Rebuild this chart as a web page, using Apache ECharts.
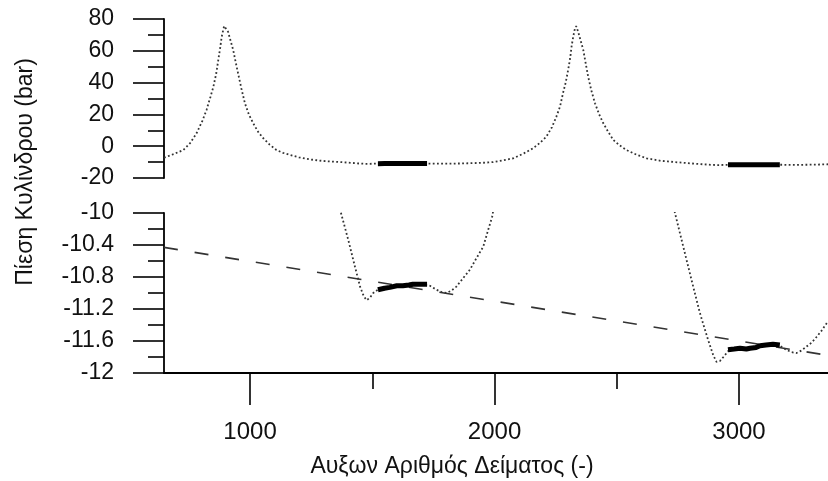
<!DOCTYPE html>
<html>
<head>
<meta charset="utf-8">
<script src="https://cdn.jsdelivr.net/npm/echarts@6/dist/echarts.min.js"></script>
<style>
html,body{margin:0;padding:0;background:#fff;}
#chart{width:828px;height:481px;}
</style>
</head>
<body>
<div id="chart"></div>
<script>
// Pressure trace (crank angle vs cylinder pressure)
const pressureX = [648,659,690,727,755,781,805,822,838,850,862,870,878,884,894,902,910,920,931,941,951,965,979,995,1013,1033,1054,1080,1108,1135,1163,1200,1250,1300,1340,1372,1402,1429,1450,1465,1477,1490,1504,1531,1560,1600,1650,1700,1736,1763,1785,1804,1824,1844,1870,1899,1925,1954,1975,1992,2030,2077,2120,2158,2185,2212,2235,2253,2268,2280,2291,2301,2309,2315,2322,2329,2334,2342,2352,2363,2373,2383,2396,2411,2428,2445,2465,2486,2512,2540,2580,2622,2680,2710,2738,2772,2806,2840,2874,2895,2908,2922,2936,2963,3004,3045,3086,3139,3167,3194,3215,3235,3255,3276,3297,3317,3338,3358,3364];
const pressureY = [-7.2,-6.6,-4.8,-2.4,2.0,8.1,16,22.8,31,37.4,46,54.2,62,68.9,75.6,75,72,66.5,60.5,53,45.8,36,27,20,14.4,9,5,1,-2.4,-4.2,-5.5,-7.0,-8.4,-9.3,-9.7,-10.0,-10.34,-10.67,-10.92,-11.04,-11.09,-11.06,-11.0,-10.94,-10.93,-10.91,-10.9,-10.89,-10.91,-10.96,-10.99,-11.0,-10.97,-10.92,-10.82,-10.71,-10.57,-10.42,-10.2,-10.03,-9.0,-7.6,-4.5,-1.3,2,6,12,18.6,25,33.3,40,47.9,55,62.6,69,74.1,75.5,72,66.5,60.5,52,43.7,35,27,20,14.4,9,3.9,0.5,-2.4,-5.3,-7.6,-9.2,-9.6,-10.0,-10.42,-10.84,-11.25,-11.59,-11.78,-11.86,-11.85,-11.80,-11.70,-11.69,-11.69,-11.67,-11.65,-11.66,-11.71,-11.74,-11.75,-11.72,-11.67,-11.62,-11.55,-11.47,-11.38,-11.35];

// Averaging windows (thick segments)
const win1X = [1523,1550,1572,1600,1625,1650,1666,1695,1724];
const win1Y = [-10.96,-10.94,-10.93,-10.91,-10.91,-10.90,-10.89,-10.89,-10.89];
const win2X = [2955,2980,3004,3030,3045,3070,3086,3110,3139,3167];
const win2Y = [-11.71,-11.70,-11.69,-11.70,-11.69,-11.68,-11.66,-11.65,-11.64,-11.65];

// Drift trend line
const trendX = [648, 3364];
const trendY = [-10.43, -11.78];

// Axes
const xMin = 648, xMax = 3364;
const xMajorTicks = [1000, 2000, 3000];
const xMinorTicks = [1500, 2500];
const yTop = {min: -20, max: 80, interval: 20};
const yBot = {min: -12, max: -10, interval: 0.4};

const xTitle = 'Αυξων Αριθμός Δείματος (-)';
const yTitle = 'Πίεση Κυλίνδρου (bar)';

const zip = (xs, ys) => xs.map((x, i) => [x, ys[i]]);
const FONT = "'Liberation Sans', Arial, sans-serif";
const TXT = '#111';

function yAxisCfg(grid, r) {
  return {
    type: 'value', gridIndex: grid, min: r.min, max: r.max, interval: r.interval,
    axisLine: {show: true, lineStyle: {color: '#000', width: 1.8}},
    axisTick: {show: true, length: 31, lineStyle: {color: '#000', width: 1.6}},
    minorTick: {show: true, splitNumber: 2, length: 16, lineStyle: {color: '#000', width: 1.6}},
    splitLine: {show: false}, minorSplitLine: {show: false},
    axisLabel: {margin: 50, fontSize: 23, color: TXT, fontFamily: FONT,
      formatter: v => String(Math.round(v * 10) / 10)}
  };
}

const dotted = {color: '#333', width: 1.8, type: [1.8, 2.4]};
const thick = {color: '#000', width: 5};

const chart = echarts.init(document.getElementById('chart'), null, {renderer: 'canvas'});
chart.setOption({
  animation: false,
  backgroundColor: '#fff',
  grid: [
    {left: 164, top: 19, width: 664, height: 159},
    {left: 164, top: 213, width: 664, height: 160}
  ],
  xAxis: [
    {type: 'value', gridIndex: 0, min: xMin, max: xMax, show: false},
    {type: 'value', gridIndex: 1, position: 'bottom', min: xMin, max: xMax,
      axisLine: {show: true, lineStyle: {color: '#000', width: 1.8}},
      axisTick: {show: true, length: 32, customValues: xMajorTicks, lineStyle: {color: '#000', width: 1.6}},
      axisLabel: {show: true, customValues: xMajorTicks, margin: 47, fontSize: 24, color: TXT, fontFamily: FONT,
        formatter: v => String(v)},
      splitLine: {show: false}
    },
    {type: 'value', gridIndex: 1, position: 'bottom', offset: 0, min: xMin, max: xMax,
      axisLine: {show: false},
      axisTick: {show: true, length: 16, customValues: xMinorTicks, lineStyle: {color: '#000', width: 1.6}},
      axisLabel: {show: false},
      splitLine: {show: false}
    }
  ],
  yAxis: [yAxisCfg(0, yTop), yAxisCfg(1, yBot)],
  graphic: [{
    type: 'text', x: 26, y: 172, rotation: Math.PI / 2,
    style: {text: yTitle, fontSize: 23, fill: TXT, fontFamily: FONT, align: 'center', verticalAlign: 'middle'}
  }, {
    type: 'text', x: 452, y: 467,
    style: {text: xTitle, fontSize: 23, fill: TXT, fontFamily: FONT, align: 'center', verticalAlign: 'middle'}
  }],
  series: [
    {type: 'line', xAxisIndex: 0, yAxisIndex: 0, data: zip(pressureX, pressureY), showSymbol: false, lineStyle: dotted, z: 2},
    {type: 'line', xAxisIndex: 0, yAxisIndex: 0, data: zip(win1X, win1Y), showSymbol: false, lineStyle: thick, z: 3},
    {type: 'line', xAxisIndex: 0, yAxisIndex: 0, data: zip(win2X, win2Y), showSymbol: false, lineStyle: thick, z: 3},
    {type: 'line', xAxisIndex: 1, yAxisIndex: 1, data: zip(pressureX, pressureY), showSymbol: false, lineStyle: dotted, clip: true, z: 2},
    {type: 'line', xAxisIndex: 1, yAxisIndex: 1, data: zip(win1X, win1Y), showSymbol: false, lineStyle: thick, z: 3},
    {type: 'line', xAxisIndex: 1, yAxisIndex: 1, data: zip(win2X, win2Y), showSymbol: false, lineStyle: thick, z: 3},
    {type: 'line', xAxisIndex: 1, yAxisIndex: 1, data: zip(trendX, trendY), showSymbol: false,
      lineStyle: {color: '#333', width: 1.6, type: [14, 17]}, z: 2}
  ]
});
</script>
</body>
</html>
